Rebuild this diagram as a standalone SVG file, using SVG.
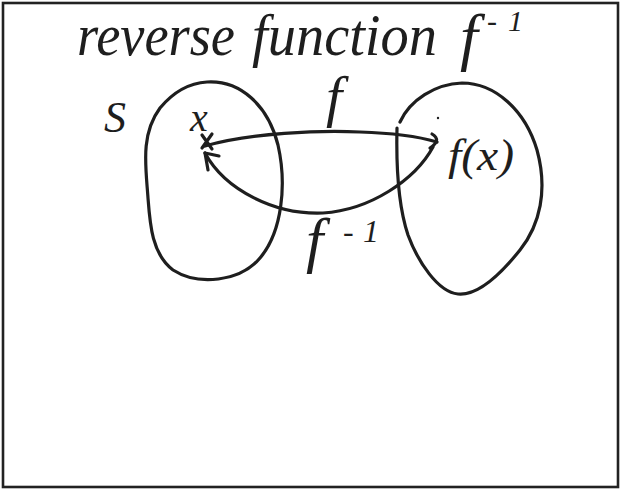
<svg xmlns="http://www.w3.org/2000/svg" width="621" height="490" viewBox="0 0 621 490">
<style>
.ink{fill:none;stroke:#1e1e1e;stroke-width:3.2;stroke-linecap:round;stroke-linejoin:round}
.hw{font-family:"Liberation Serif","DejaVu Serif",serif;font-style:italic;fill:#1e1e1e}
</style>
<rect x="0" y="0" width="621" height="490" fill="#ffffff"/>
<rect x="3" y="3" width="615" height="484" fill="none" stroke="#222" stroke-width="2.6"/>
<g id="title">
<text class="hw" x="77" y="55" font-size="59" textLength="158" lengthAdjust="spacingAndGlyphs">reverse</text>
<text class="hw" x="252" y="55" font-size="59" textLength="185" lengthAdjust="spacingAndGlyphs">function</text>
<text class="hw" x="460" y="58" font-size="64">f</text>
<text class="hw" x="487" y="31" font-size="30" textLength="36" lengthAdjust="spacing">-1</text>
</g>
<g id="set-S">
<path class="ink" d="M207,82 C240,80 268,105 278,145 C287,185 282,232 260,258 C240,282 198,286 173,270 C152,254 150,225 148,198 C146,168 140,135 160,108 C175,90 190,83 207,82 Z"/>
<text class="hw" x="104" y="132" font-size="44">S</text>
</g>
<g id="point-x">
<text class="hw" x="190" y="131" font-size="40">x</text>
<path class="ink" d="M202,135 L212,149 M212,134 L202,148"/>
</g>
<g id="set-image">
<path class="ink" d="M400,122 C410,100 435,84 462,83 C495,83 525,110 537,150 C548,190 540,225 520,250 C500,275 478,296 458,294 C438,292 418,262 408,235 C398,205 396,170 397,128"/>
<circle cx="438" cy="118" r="1.2" fill="#1e1e1e"/>
<text class="hw" x="448" y="170" font-size="44" textLength="66" lengthAdjust="spacingAndGlyphs">f(x)</text>
</g>
<g id="connectors">
<g id="arrow-f">
<path class="ink" d="M205,146 C250,133 320,130 360,132 C395,133 420,137 437,142"/>
<path class="ink" d="M432,134 Q442,140 430,148"/>
<text class="hw" x="326" y="116" font-size="58">f</text>
</g>
<g id="arrow-f-inverse">
<path class="ink" d="M433,147 C415,180 370,210 323,213 C275,215 225,190 205,153"/>
<path class="ink" d="M219,156 L205,153 L208,170"/>
<text class="hw" x="306" y="261" font-size="62">f</text>
<text class="hw" x="343" y="242" font-size="32" textLength="36" lengthAdjust="spacing">-1</text>
</g>
</g>
</svg>
